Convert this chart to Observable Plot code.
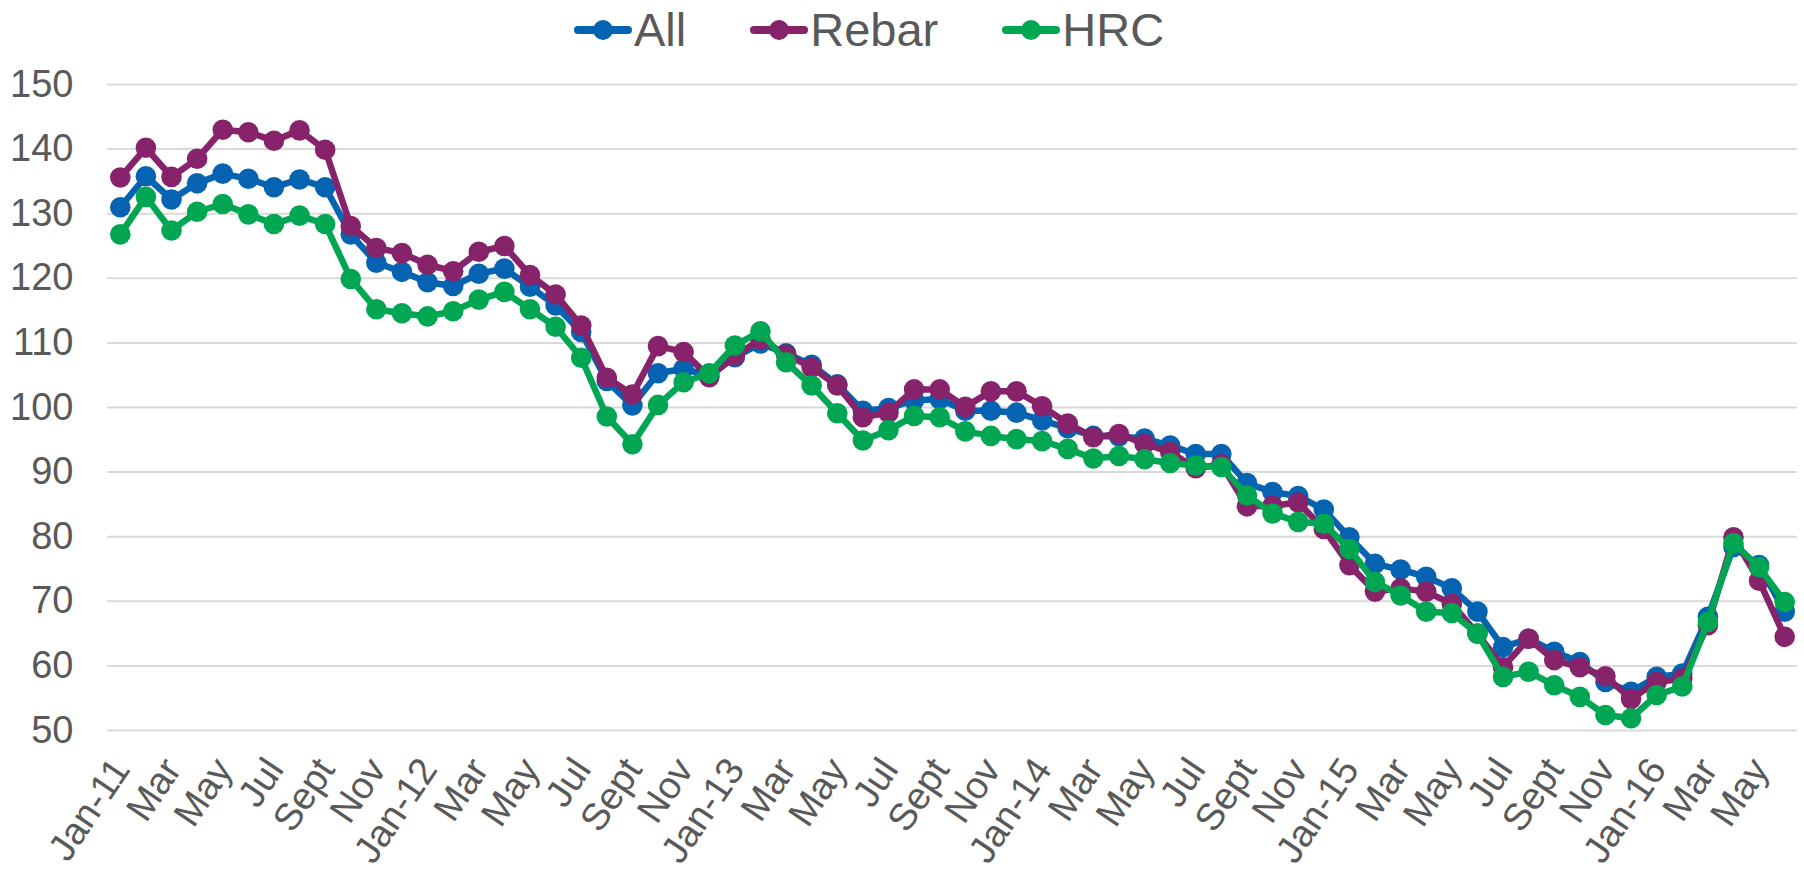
<!DOCTYPE html>
<html>
<head>
<meta charset="utf-8">
<script src="https://cdn.jsdelivr.net/npm/d3@7"></script>
<script src="https://cdn.jsdelivr.net/npm/@observablehq/plot@0.6"></script>
<style>
  html, body { margin: 0; padding: 0; background: #ffffff; }
  body { width: 1804px; height: 869px; overflow: hidden; font-family: "Liberation Sans", Arial, sans-serif; }
  #legend { height: 60px; display: flex; align-items: center; padding-left: 574px; box-sizing: border-box; }
  .item { display: flex; align-items: center; margin-right: 64px; }
  .item span { font-size: 47px; color: #595959; margin-left: 2px; line-height: 60px; }
</style>
</head>
<body>
<div id="legend"></div>
<div id="chart"></div>
<script>
const periods = [
  "Jan-11","Feb-11","Mar-11","Apr-11","May-11","Jun-11","Jul-11","Aug-11","Sep-11","Oct-11","Nov-11","Dec-11",
  "Jan-12","Feb-12","Mar-12","Apr-12","May-12","Jun-12","Jul-12","Aug-12","Sep-12","Oct-12","Nov-12","Dec-12",
  "Jan-13","Feb-13","Mar-13","Apr-13","May-13","Jun-13","Jul-13","Aug-13","Sep-13","Oct-13","Nov-13","Dec-13",
  "Jan-14","Feb-14","Mar-14","Apr-14","May-14","Jun-14","Jul-14","Aug-14","Sep-14","Oct-14","Nov-14","Dec-14",
  "Jan-15","Feb-15","Mar-15","Apr-15","May-15","Jun-15","Jul-15","Aug-15","Sep-15","Oct-15","Nov-15","Dec-15",
  "Jan-16","Feb-16","Mar-16","Apr-16","May-16","Jun-16"
];

const tickPeriods = [
  "Jan-11","Mar-11","May-11","Jul-11","Sep-11","Nov-11",
  "Jan-12","Mar-12","May-12","Jul-12","Sep-12","Nov-12",
  "Jan-13","Mar-13","May-13","Jul-13","Sep-13","Nov-13",
  "Jan-14","Mar-14","May-14","Jul-14","Sep-14","Nov-14",
  "Jan-15","Mar-15","May-15","Jul-15","Sep-15","Nov-15",
  "Jan-16","Mar-16","May-16"
];
const tickLabels = [
  "Jan-11","Mar","May","Jul","Sept","Nov",
  "Jan-12","Mar","May","Jul","Sept","Nov",
  "Jan-13","Mar","May","Jul","Sept","Nov",
  "Jan-14","Mar","May","Jul","Sept","Nov",
  "Jan-15","Mar","May","Jul","Sept","Nov",
  "Jan-16","Mar","May"
];

const yTicks = [50, 60, 70, 80, 90, 100, 110, 120, 130, 140, 150];

const seriesNames = ["All", "Rebar", "HRC"];
const seriesColors = ["#0563B1", "#86236B", "#00A651"];

const allValues = [
  131.0,135.8,132.2,134.7,136.2,135.4,134.1,135.3,134.1,126.8,122.4,121.0,
  119.4,118.8,120.7,121.5,118.7,115.8,111.7,104.1,100.3,105.3,106.0,104.9,
  107.8,109.9,108.4,106.6,103.6,99.5,99.9,101.1,101.3,99.5,99.5,99.2,
  98.0,96.8,95.6,95.5,95.2,94.1,92.8,92.8,88.3,86.9,86.3,84.2,
  79.9,75.8,74.9,73.8,72.0,68.4,62.9,64.2,62.2,60.6,57.5,56.0,
  58.3,58.8,67.6,78.4,75.6,68.4
];
const rebarValues = [
  135.6,140.2,135.7,138.5,143.0,142.6,141.3,142.9,139.9,128.1,124.7,123.9,
  122.1,121.1,124.1,125.0,120.5,117.5,112.7,104.6,102.0,109.5,108.6,104.7,
  108.0,110.5,108.2,106.2,103.4,98.5,99.2,102.8,102.8,100.1,102.5,102.5,
  100.2,97.5,95.4,95.9,94.4,93.1,90.6,91.2,84.7,84.8,85.3,81.2,
  75.6,71.5,72.0,71.5,69.6,65.0,59.8,64.2,60.9,59.8,58.4,54.9,
  57.5,58.0,66.3,79.9,73.2,64.5
];
const hrcValues = [
  126.8,132.6,127.4,130.3,131.5,129.9,128.4,129.7,128.4,119.9,115.2,114.6,
  114.1,114.9,116.7,117.9,115.2,112.5,107.7,98.6,94.3,100.4,103.9,105.3,
  109.6,111.8,107.0,103.4,99.1,94.9,96.5,98.7,98.5,96.3,95.6,95.1,
  94.8,93.6,92.1,92.5,92.0,91.4,91.0,90.8,86.4,83.6,82.3,82.0,
  78.1,73.0,70.9,68.4,68.2,65.0,58.3,59.1,57.0,55.2,52.4,51.9,
  55.5,56.8,66.8,79.0,75.3,69.9
];

const seriesValues = [allValues, rebarValues, hrcValues];
const rows = seriesNames.flatMap((name, s) =>
  periods.map((p, i) => ({series: name, period: p, value: seriesValues[s][i]}))
);
const ticks = tickPeriods.map((p, i) => ({period: p, label: tickLabels[i]}));

// Legend
const legend = document.getElementById("legend");
seriesNames.forEach((name, s) => {
  const item = document.createElement("div");
  item.className = "item";
  item.innerHTML = `<svg width="58" height="24"><line x1="4" x2="54" y1="12" y2="12" stroke="${seriesColors[s]}" stroke-width="8" stroke-linecap="round"/><circle cx="29" cy="12" r="10" fill="${seriesColors[s]}"/></svg><span>${name}</span>`;
  legend.appendChild(item);
});

const seriesMarks = seriesNames.flatMap((name, s) => {
  const data = rows.filter(d => d.series === name);
  return [
    Plot.line(data, {x: "period", y: "value", stroke: seriesColors[s], strokeWidth: 6.5, strokeLinejoin: "round"}),
    Plot.dot(data, {x: "period", y: "value", fill: seriesColors[s], r: 10.3, stroke: "none"})
  ];
});

const chart = Plot.plot({
  width: 1804,
  height: 809,
  marginTop: 24,
  marginBottom: 139,
  marginLeft: 107,
  marginRight: 7,
  style: {fontFamily: '"Liberation Sans", Arial, sans-serif', background: "#ffffff", overflow: "visible"},
  x: {type: "point", domain: periods, padding: 0.5, label: null, axis: null},
  y: {domain: [50, 150], label: null},
  marks: [
    Plot.gridY(yTicks, {stroke: "#d9d9d9", strokeOpacity: 1, strokeWidth: 2}),
    Plot.axisY(yTicks, {tickSize: 0, tickPadding: 34, fontSize: 38, color: "#595959", label: null}),
    Plot.text(ticks, {x: "period", text: "label", frameAnchor: "bottom", dy: 39, dx: 11, rotate: -56,
      textAnchor: "end", fontSize: 38, fill: "#595959"}),
    ...seriesMarks
  ]
});
document.getElementById("chart").appendChild(chart);
</script>
</body>
</html>
